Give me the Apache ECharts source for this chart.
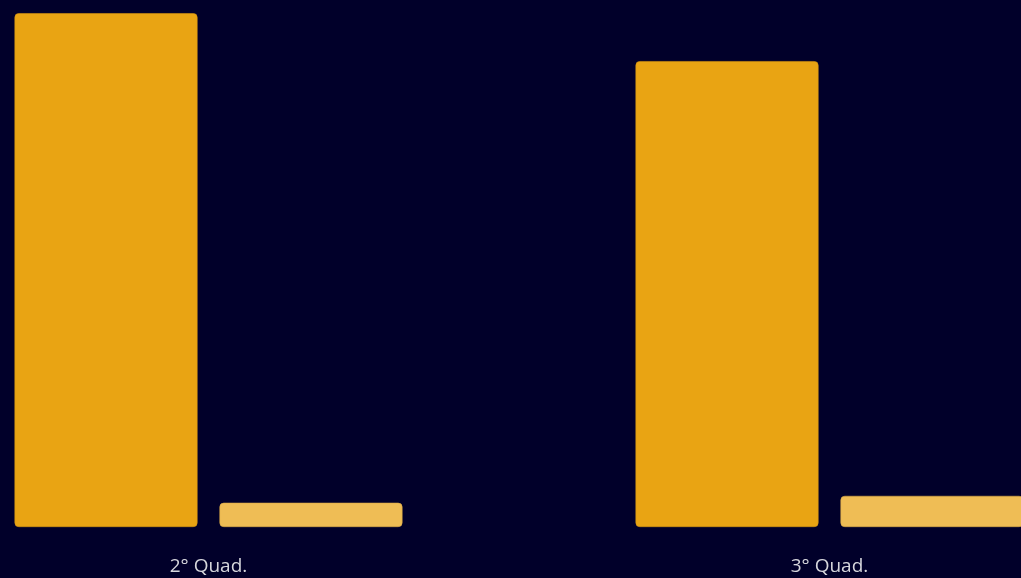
<!DOCTYPE html>
<html>
<head>
<meta charset="utf-8">
<script src="https://cdn.jsdelivr.net/npm/echarts@6/dist/echarts.min.js"></script>
<style>
html,body{margin:0;padding:0;background:#01002a;overflow:hidden;width:1021px;height:578px;}
#c{position:absolute;left:-102px;top:0;width:1242px;height:578px;}
</style>
</head>
<body>
<div id="c"></div>
<script>
const categories = ['2° Quad.', '3° Quad.'];
const seriesA = [97.5, 88.4];
const seriesB = [4.6, 5.9];

const chart = echarts.init(document.getElementById('c'), null, {renderer: 'canvas'});
chart.setOption({
  backgroundColor: '#01002a',
  animation: false,
  grid: {left: 0, right: 0, top: 0, bottom: 51, containLabel: false},
  xAxis: {
    type: 'category',
    data: categories,
    axisLine: {show: false},
    axisTick: {show: false},
    axisLabel: {color: '#d6d6dc', fontSize: 19, fontFamily: 'Open Sans', margin: 30}
  },
  yAxis: {
    type: 'value',
    min: 0,
    max: 100,
    show: false,
    splitLine: {show: false}
  },
  series: [
    {
      type: 'bar',
      data: seriesA,
      barWidth: 183,
      barGap: '12%',
      itemStyle: {color: '#e9a413', borderRadius: 4, borderColor: '#d8960f', borderWidth: 0.6}
    },
    {
      type: 'bar',
      data: seriesB,
      barWidth: 183,
      itemStyle: {color: '#efbd55', borderRadius: 4, borderColor: '#dcaa45', borderWidth: 0.6}
    }
  ]
});
</script>
</body>
</html>
